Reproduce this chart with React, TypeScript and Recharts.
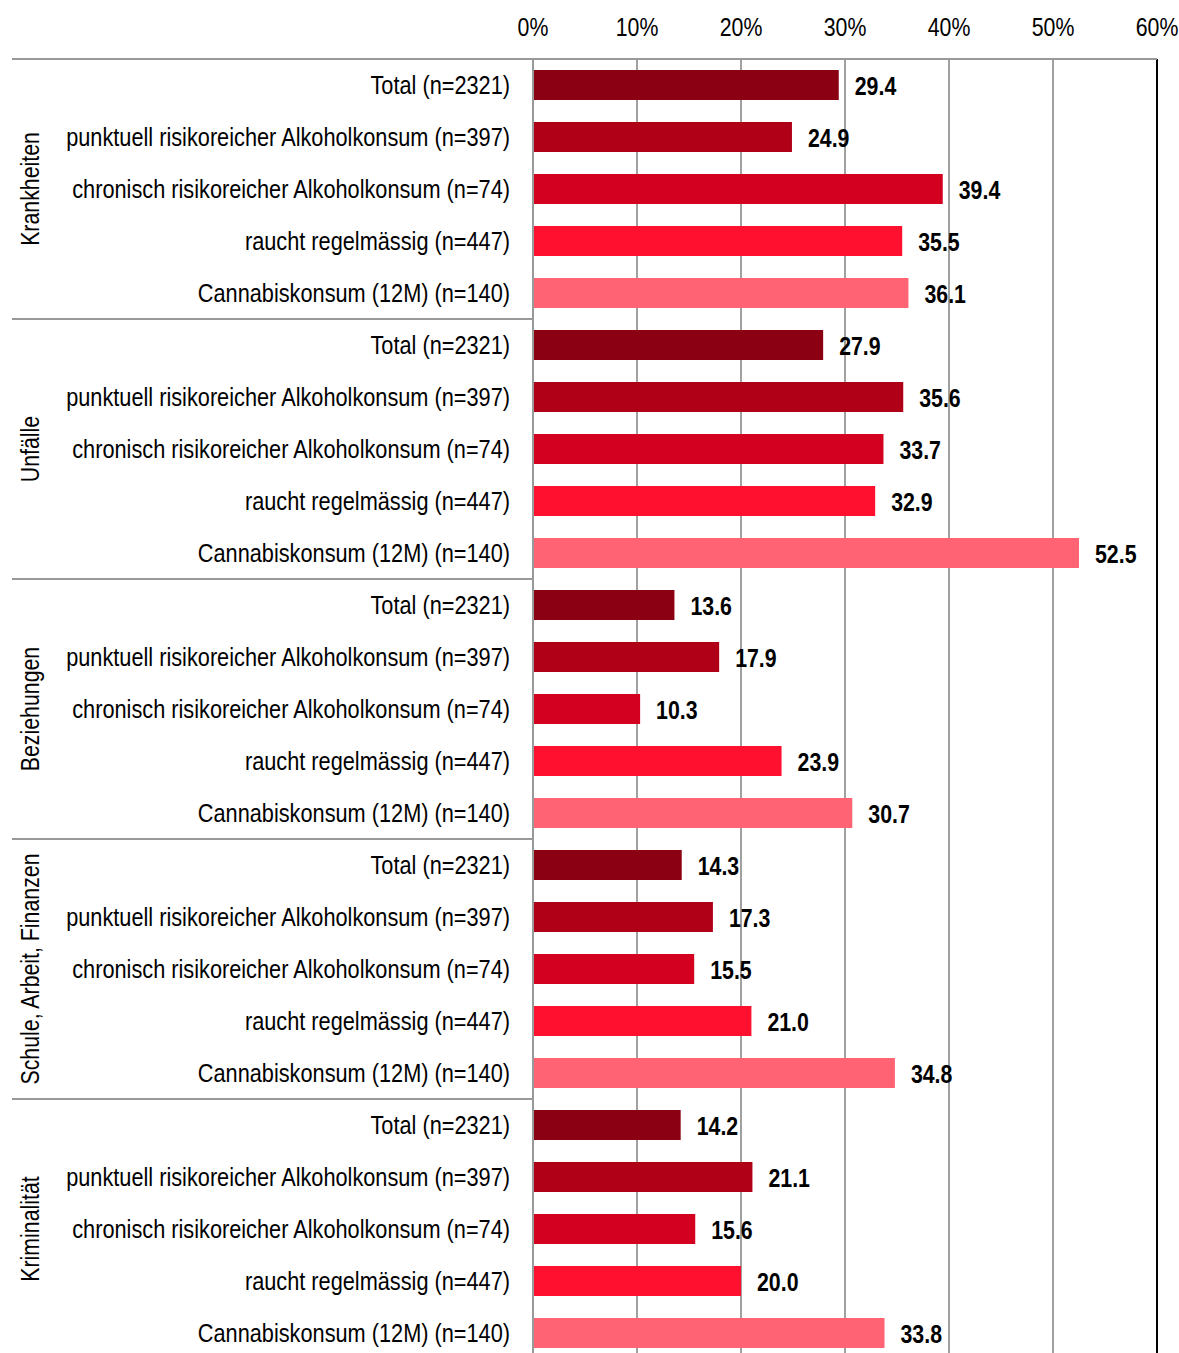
import React from 'react';
import { BarChart, Bar, XAxis, YAxis, CartesianGrid, Cell, LabelList, ReferenceLine } from 'recharts';

const groups = ['Krankheiten', 'Unfälle', 'Beziehungen', 'Schule, Arbeit, Finanzen', 'Kriminalität'];
const subgroups = [
  'Total (n=2321)',
  'punktuell risikoreicher Alkoholkonsum (n=397)',
  'chronisch risikoreicher Alkoholkonsum (n=74)',
  'raucht regelmässig (n=447)',
  'Cannabiskonsum (12M) (n=140)',
];
const krankheiten = [29.4, 24.9, 39.4, 35.5, 36.1];
const unfaelle = [27.9, 35.6, 33.7, 32.9, 52.5];
const beziehungen = [13.6, 17.9, 10.3, 23.9, 30.7];
const schule = [14.3, 17.3, 15.5, 21.0, 34.8];
const kriminalitaet = [14.2, 21.1, 15.6, 20.0, 33.8];
const xTicks = [0, 10, 20, 30, 40, 50, 60];
const colors = ['#8b0012', '#b00018', '#d3001f', '#ff102f', '#ff6374'];

const series = [krankheiten, unfaelle, beziehungen, schule, kriminalitaet];
const data = series.flatMap((vals, g) =>
  vals.map((v, s) => ({ id: `${g}-${s}`, group: g, sub: s, value: v }))
);

// Liberation Sans squeezed horizontally to look like Arial Narrow
const FONT = '"Liberation Sans", Arial, sans-serif';
const PLOT_TOP = 59;
const BAND = 52;

function NarrowText(props: any) {
  const { x, y, rotate = 0, anchor = 'start', bold = false, squeeze = 0.82, children } = props;
  return (
    <text
      x={0}
      y={0}
      transform={`translate(${x}, ${y}) rotate(${rotate}) scale(${squeeze}, 1)`}
      textAnchor={anchor}
      fontSize={26}
      fontWeight={bold ? 'bold' : 'normal'}
      fontFamily={FONT}
      fill="#000"
    >
      {children}
    </text>
  );
}

function CategoryTick(props: any) {
  const { y, index } = props;
  const row = data[index];
  return (
    <g>
      {row.sub === 0 && (
        <line x1={12} x2={533} y1={y - BAND / 2} y2={y - BAND / 2} stroke="#999" strokeWidth={2} />
      )}
      {row.sub === 2 && (
        <NarrowText x={39} y={y} rotate={-90} anchor="middle">
          {groups[row.group]}
        </NarrowText>
      )}
      <NarrowText x={510} y={y + 9} anchor="end" squeeze={0.836}>
        {subgroups[row.sub]}
      </NarrowText>
    </g>
  );
}

function PercentTick(props: any) {
  const { x, payload } = props;
  return (
    <NarrowText x={x} y={36} anchor="middle">
      {`${payload.value}%`}
    </NarrowText>
  );
}

function ValueLabel(props: any) {
  const { x, y, width, height, value } = props;
  return (
    <NarrowText x={x + width + 16} y={y + height / 2 + 10} bold>
      {Number(value).toFixed(1)}
    </NarrowText>
  );
}

export default function App() {
  return (
    <div style={{ position: 'absolute', top: 0, left: 0, width: 1179, height: 1353, overflow: 'hidden', background: '#fff' }}>
      <BarChart
        width={1179}
        height={PLOT_TOP + BAND * data.length + 1}
        data={data}
        layout="vertical"
        margin={{ top: PLOT_TOP - 30, right: 22, left: 0, bottom: 1 }}
        barCategoryGap={22}
      >
        <CartesianGrid horizontal={false} stroke="#a0a0a0" strokeWidth={2} />
        <XAxis
          type="number"
          orientation="top"
          domain={[0, 60]}
          ticks={xTicks}
          height={30}
          tickLine={false}
          axisLine={{ stroke: '#999', strokeWidth: 2 }}
          tick={<PercentTick />}
          interval={0}
        />
        <YAxis
          type="category"
          dataKey="id"
          width={533}
          tickLine={false}
          axisLine={{ stroke: '#999', strokeWidth: 2 }}
          tick={<CategoryTick />}
          interval={0}
        />
        <ReferenceLine x={60} stroke="#000" strokeWidth={2} />
        <Bar dataKey="value" barSize={30} isAnimationActive={false}>
          {data.map((d) => (
            <Cell key={d.id} fill={colors[d.sub]} />
          ))}
          <LabelList dataKey="value" content={<ValueLabel />} />
        </Bar>
      </BarChart>
    </div>
  );
}
